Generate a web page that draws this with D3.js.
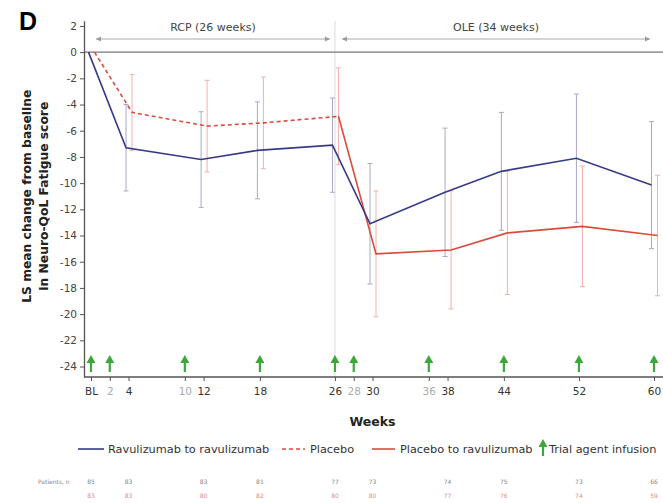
<!DOCTYPE html>
<html>
<head>
<meta charset="utf-8">
<script src="https://cdn.jsdelivr.net/npm/d3@7"></script>
<style>
body { margin: 0; background: #fff; }
svg { font-family: 'DejaVu Sans', 'Liberation Sans', Arial, sans-serif; }
</style>
</head>
<body>
<div class="chart"></div>
<script>
// data
const tickWeeks = [0, 2, 4, 10, 12, 18, 26, 28, 30, 36, 38, 44, 52, 60];
const infusionWeeks = [0, 2, 10, 18, 26, 28, 36, 44, 52, 60];
const yTicks = [2, 0, -2, -4, -6, -8, -10, -12, -14, -16, -18, -20, -22, -24];

const ravuWeeks = [0, 4, 12, 18, 26, 30, 38, 44, 52, 60];
const ravuMean = [0, -7.3, -8.2, -7.5, -7.1, -13.1, -10.7, -9.1, -8.1, -10.15];
const ravuErr = [0, 3.3, 3.65, 3.7, 3.6, 4.6, 4.9, 4.5, 4.9, 4.85];

const placeboWeeks = [0, 4, 12, 18, 26];
const placeboMean = [0, -4.6, -5.65, -5.4, -4.9];
const placeboErr = [0, 2.9, 3.5, 3.5, 3.7];

const p2rWeeks = [26, 30, 38, 44, 52, 60];
const p2rMean = [-4.9, -15.4, -15.1, -13.8, -13.3, -14.0];
const p2rErr = [0, 4.8, 4.5, 4.7, 4.6, 4.6];

const nWeeks = [0, 4, 12, 18, 26, 30, 38, 44, 52, 60];
const nRavu = [85, 83, 83, 81, 77, 73, 74, 75, 73, 66];
const nPlacebo = [83, 83, 80, 82, 80, 80, 77, 76, 74, 59];

const w = 663, h = 503;
const plotLeft = 84, plotRight = 663, plotTop = 20.7, plotBottom = 377;

const svg = d3.select('.chart').append('svg').attr('width', w).attr('height', h);

let x = d3.scaleLinear().domain([0, 60]).range([91, 654]);
let y = d3.scaleLinear().domain([-24.8, 2.4]).range([plotBottom, plotTop]);

const blue = '#363a88', red = '#dc4a3c';
const blueBar = '#a8aac6', redBar = '#f3b0ac';
const dodgeBlue = -2.5, dodgeRed = 3.5;

// panel letter
svg.append('text').attr('x', 19).attr('y', 30)
	.attr('font-family', 'Liberation Sans, Arial, sans-serif')
	.attr('font-size', 25).attr('font-weight', 'bold').text('D');

// week 26 divider
svg.append('line')
	.attr('x1', x(26)).attr('x2', x(26))
	.attr('y1', plotTop).attr('y2', plotBottom)
	.attr('stroke', '#dcdcdc').attr('stroke-width', 1);

// zero line
svg.append('line')
	.attr('x1', plotLeft).attr('x2', plotRight)
	.attr('y1', y(0)).attr('y2', y(0))
	.attr('stroke', '#777').attr('stroke-width', 1.3);

// period arrows
const periods = [
	{ label: 'RCP (26 weeks)', x1: x(0) + 5, x2: x(26) - 5 },
	{ label: 'OLE (34 weeks)', x1: x(26) + 7, x2: x(60) - 4 }
];
periods.forEach(function(p) {
	svg.append('line')
		.attr('x1', p.x1).attr('x2', p.x2).attr('y1', 39).attr('y2', 39)
		.attr('stroke', '#aaa').attr('stroke-width', 1);
	[[p.x1, 1], [p.x2, -1]].forEach(function(a) {
		svg.append('path')
			.attr('d', 'M' + a[0] + ',39 l' + (a[1] * 5) + ',-2.5 v5 z')
			.attr('fill', '#999');
	});
	svg.append('text')
		.attr('x', (p.x1 + p.x2) / 2).attr('y', 31)
		.attr('text-anchor', 'middle').attr('font-size', 11).attr('fill', '#444')
		.text(p.label);
});

// y axis
let yAxis = svg.append('g')
	.attr('transform', 'translate(' + plotLeft + ',0)')
	.call(d3.axisLeft(y).tickValues(yTicks).tickSize(4).tickSizeOuter(0).tickFormat(d3.format('d')));
yAxis.select('.domain').attr('stroke', '#555').attr('stroke-width', 1.3);
yAxis.selectAll('.tick line').attr('stroke', '#555');
yAxis.selectAll('text').attr('font-size', 10.5).attr('fill', '#444')
	.attr('font-family', 'DejaVu Sans, sans-serif').text(function(d) { return String(d); });

// x axis
svg.append('line')
	.attr('x1', plotLeft).attr('x2', plotRight).attr('y1', plotBottom).attr('y2', plotBottom)
	.attr('stroke', '#555').attr('stroke-width', 1.3);
let xAxis = svg.append('g')
	.attr('transform', 'translate(0,' + plotBottom + ')')
	.call(d3.axisBottom(x).tickValues(tickWeeks).tickSize(4).tickSizeOuter(0)
		.tickFormat(function(d) { return d === 0 ? 'BL' : d; }));
xAxis.select('.domain').remove();
xAxis.selectAll('.tick line').attr('stroke', '#555');
xAxis.selectAll('text')
	.attr('font-size', 10.5).attr('dy', '1em')
	.attr('font-family', 'DejaVu Sans, sans-serif')
	.attr('fill', function(d) { return nWeeks.indexOf(d) >= 0 ? '#333' : '#aaa'; });

// axis titles
svg.append('text')
	.attr('x', x(30)).attr('y', 426)
	.attr('text-anchor', 'middle').attr('font-size', 12.5).attr('font-weight', 'bold').attr('fill', '#222')
	.text('Weeks');

let yTitle = svg.append('text')
	.attr('transform', 'translate(31,' + y(-11.0) + ') rotate(-90)')
	.attr('text-anchor', 'middle').attr('font-size', 12.3).attr('font-weight', 'bold').attr('fill', '#222');
yTitle.append('tspan').attr('x', 0).attr('dy', 0).text('LS mean change from baseline');
yTitle.append('tspan').attr('x', 0).attr('dy', 17).text('in Neuro-QoL Fatigue score');

// error bars
function errorBars(weeks, mean, err, dodge, color) {
	let g = svg.append('g').attr('stroke', color).attr('stroke-width', 1);
	weeks.forEach(function(wk, i) {
		if (err[i] === 0) return;
		let cx = x(wk) + dodge;
		let hi = y(mean[i] + err[i]), lo = y(mean[i] - err[i]);
		g.append('line').attr('x1', cx).attr('x2', cx).attr('y1', hi).attr('y2', lo);
		g.append('line').attr('x1', cx - 2.5).attr('x2', cx + 2.5).attr('y1', hi).attr('y2', hi);
		g.append('line').attr('x1', cx - 2.5).attr('x2', cx + 2.5).attr('y1', lo).attr('y2', lo);
	});
}
errorBars(ravuWeeks, ravuMean, ravuErr, dodgeBlue, blueBar);
errorBars(placeboWeeks, placeboMean, placeboErr, dodgeRed, redBar);
errorBars(p2rWeeks, p2rMean, p2rErr, dodgeRed, redBar);

// lines
function drawLine(weeks, mean, dodge, color, dash) {
	let line = d3.line()
		.x(function(d) { return x(d[0]) + dodge; })
		.y(function(d) { return y(d[1]); });
	svg.append('path')
		.datum(weeks.map(function(wk, i) { return [wk, mean[i]]; }))
		.attr('d', line)
		.attr('fill', 'none')
		.attr('stroke', color)
		.attr('stroke-width', 1.6)
		.attr('stroke-dasharray', dash);
}
drawLine(p2rWeeks, p2rMean, dodgeRed, red, null);
drawLine(placeboWeeks, placeboMean, dodgeRed, red, '4,3');
drawLine(ravuWeeks, ravuMean, dodgeBlue, blue, null);

// infusion arrows
const green = '#3ca83a';
function arrow(g, cx, yb) {
	g.append('line').attr('x1', cx).attr('x2', cx).attr('y1', yb).attr('y2', yb - 10)
		.attr('stroke', green).attr('stroke-width', 2.2);
	g.append('path').attr('d', 'M' + (cx - 4.5) + ',' + (yb - 9) + ' L' + cx + ',' + (yb - 17) + ' L' + (cx + 4.5) + ',' + (yb - 9) + ' Z')
		.attr('fill', green);
}
let arrows = svg.append('g');
infusionWeeks.forEach(function(wk) { arrow(arrows, x(wk), 372); });

// legend
let lg = svg.append('g').attr('font-size', 11.3).attr('fill', '#333');
const ly = 449;
lg.append('line').attr('x1', 78).attr('x2', 104).attr('y1', ly).attr('y2', ly).attr('stroke', blue).attr('stroke-width', 1.6);
lg.append('text').attr('x', 108).attr('y', ly + 4).text('Ravulizumab to ravulizumab');
lg.append('line').attr('x1', 282).attr('x2', 305).attr('y1', ly).attr('y2', ly).attr('stroke', red).attr('stroke-width', 1.6).attr('stroke-dasharray', '4,3');
lg.append('text').attr('x', 310).attr('y', ly + 4).text('Placebo');
lg.append('line').attr('x1', 372).attr('x2', 395).attr('y1', ly).attr('y2', ly).attr('stroke', red).attr('stroke-width', 1.6);
lg.append('text').attr('x', 400).attr('y', ly + 4).text('Placebo to ravulizumab');
arrow(lg, 543, ly + 7);
lg.append('text').attr('x', 549).attr('y', ly + 4).text('Trial agent infusion');

// patients at risk
let nt = svg.append('g').attr('font-size', 6).attr('text-anchor', 'middle');
nt.append('text').attr('x', 38).attr('y', 484).attr('text-anchor', 'start').attr('fill', '#888').text('Patients, n');
nWeeks.forEach(function(wk, i) {
	nt.append('text').attr('x', x(wk)).attr('y', 484).attr('fill', '#888').text(nRavu[i]);
	nt.append('text').attr('x', x(wk)).attr('y', 498).attr('fill', '#e08a8a').text(nPlacebo[i]);
});
</script>
</body>
</html>
